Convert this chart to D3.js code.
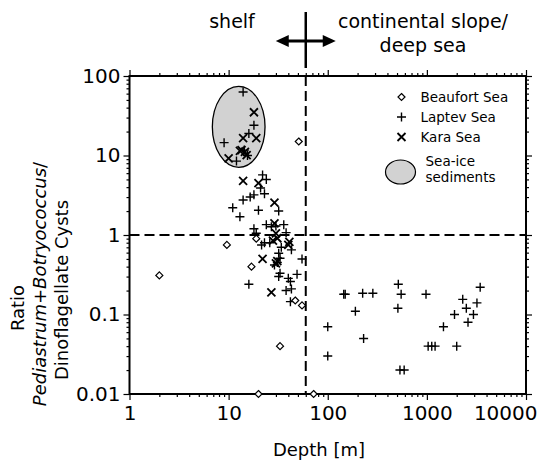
<!DOCTYPE html>
<html>
<head>
<meta charset="utf-8">
<script src="https://cdn.jsdelivr.net/npm/d3@7"></script>
<style>
  body { margin: 0; background: #fff; }
  text { font-family: "DejaVu Sans", sans-serif; fill: #000; }
</style>
</head>
<body>
<div id="chart"></div>
<script>
// depth [m], ratio
const beaufort = [
  [2, 0.31], [9.6, 0.75], [19, 0.9], [17, 0.4], [33, 0.04], [47, 0.15],
  [55, 0.13], [20, 0.01], [72, 0.01], [51, 15]
]

const laptev = [
  // sea-ice group
  [14, 63], [18, 24], [16, 18.9], [9, 14.5], [12, 8.5], [15.5, 10], [14.4, 11.7],
  // shelf
  [22, 5.7], [24, 5.0], [21, 3.9], [23, 3.3], [18, 3.2], [16.5, 3.0], [14, 2.75],
  [32, 2.0], [20, 2.05], [11, 2.2], [13, 1.7], [24, 1.35], [27, 1.27], [36, 1.35],
  [18, 1.2], [38, 1.07], [19, 1.05], [21.5, 0.75], [26, 0.8], [43, 0.65], [32, 0.59],
  [33, 0.51], [55, 0.5], [33, 0.33], [32, 0.3], [40, 0.285], [42, 0.26], [49, 0.32],
  [16, 0.24], [38, 0.2], [43, 0.21], [42, 0.145], [31, 0.45], [29, 0.42], [30, 1.3],
  [23, 0.8], [34, 0.7],
  // slope / deep sea
  [100, 0.07], [100, 0.03], [145, 0.18], [150, 0.18], [190, 0.11], [225, 0.185],
  [285, 0.185], [230, 0.05], [515, 0.24], [550, 0.18], [510, 0.12], [535, 0.02],
  [590, 0.02], [980, 0.18], [1030, 0.04], [1120, 0.04], [1210, 0.04], [1470, 0.07],
  [1900, 0.1], [2000, 0.04], [2300, 0.155], [2500, 0.12], [2600, 0.08], [2950, 0.1],
  [3200, 0.14], [3450, 0.22]
]

const kara = [
  [18, 35], [14, 16.5], [19, 16.5], [13.5, 11.7], [14.6, 11.1], [13, 11.4], [10, 9.2],
  [15.2, 10.1], [14, 4.8], [20, 4.5], [29, 2.55], [29, 1.4], [30, 1.05], [31, 0.91],
  [41, 0.82], [40, 0.75], [22, 0.5], [30, 0.44], [31, 0.47], [27, 0.19], [28, 0.85]
]

// sea-ice sediment envelope: depth range, ratio range
const iceDepth = [6.85, 23.3]
const iceRatio = [7.1, 74]

const shelfBreak = 60
const ratioLine = 1

const xTicks = [1, 10, 100, 1000, 10000]
const yTicks = [0.01, 0.1, 1, 10, 100]
const xLabels = ['1', '10', '100', '1000', '10000']
const yLabels = ['0.01', '0.1', '1', '10', '100']

const margin = { top: 76, left: 129.5, right: 16, bottom: 70 }
const width = 542 - margin.left - margin.right
const height = 464 - margin.top - margin.bottom

const svg = d3
  .select('#chart')
  .append('svg')
  .attr('width', 542)
  .attr('height', 464)

const g = svg
  .append('g')
  .attr('transform', 'translate(' + margin.left + ',' + margin.top + ')')

const x = d3.scaleLog().domain([1, 10000]).range([0, width])
const y = d3.scaleLog().domain([0.01, 100]).range([height, 0])

function minors(ticks) {
  const out = []
  for (let i = 0; i < ticks.length - 1; i++) {
    for (let k = 2; k <= 9; k++) out.push(ticks[i] * k)
  }
  return out
}

// minor ticks on all four sides
const minorX = minors(xTicks)
const minorY = minors(yTicks)
g.append('g').attr('transform', `translate(0,${height})`)
  .call(d3.axisBottom(x).tickValues(minorX).tickSize(3).tickFormat(''))
g.append('g')
  .call(d3.axisTop(x).tickValues(minorX).tickSize(3).tickFormat(''))
g.append('g')
  .call(d3.axisLeft(y).tickValues(minorY).tickSize(3).tickFormat(''))
g.append('g').attr('transform', `translate(${width},0)`)
  .call(d3.axisRight(y).tickValues(minorY).tickSize(3).tickFormat(''))

// major ticks + labels
g.append('g').attr('class', 'xaxis').attr('transform', `translate(0,${height})`)
  .call(d3.axisBottom(x).tickValues(xTicks).tickSize(6).tickPadding(6)
    .tickFormat((d, i) => xLabels[i]))
g.append('g')
  .call(d3.axisTop(x).tickValues(xTicks).tickSize(6).tickFormat(''))
g.append('g').attr('class', 'yaxis')
  .call(d3.axisLeft(y).tickValues(yTicks).tickSize(6).tickPadding(3)
    .tickFormat((d, i) => yLabels[i]))
g.append('g').attr('transform', `translate(${width},0)`)
  .call(d3.axisRight(y).tickValues(yTicks).tickSize(6).tickFormat(''))

g.selectAll('.domain').remove()
g.selectAll('.tick line').attr('stroke', '#000').attr('stroke-width', 1.2)
g.selectAll('.xaxis text, .yaxis text')
  .style('font-family', '"DejaVu Sans", sans-serif')
  .style('font-size', '20px')
  .attr('fill', '#000')
// last x label sits inside the page edge
g.selectAll('.xaxis .tick text')
  .filter(d => d === 10000)
  .attr('text-anchor', 'end')
  .attr('dx', 11)

// frame
g.append('rect')
  .attr('width', width)
  .attr('height', height)
  .attr('fill', 'none')
  .attr('stroke', '#000')
  .attr('stroke-width', 2)

// dashed guide lines
g.append('line')
  .attr('x1', 0).attr('x2', width)
  .attr('y1', y(ratioLine)).attr('y2', y(ratioLine))
  .attr('stroke', '#000').attr('stroke-width', 2)
  .attr('stroke-dasharray', '10,5')
g.append('line')
  .attr('x1', x(shelfBreak)).attr('x2', x(shelfBreak))
  .attr('y1', 0).attr('y2', height)
  .attr('stroke', '#000').attr('stroke-width', 2)
  .attr('stroke-dasharray', '10,5')

// sea-ice ellipse
const ex0 = x(iceDepth[0]), ex1 = x(iceDepth[1])
const ey0 = y(iceRatio[1]), ey1 = y(iceRatio[0])
g.append('ellipse')
  .attr('cx', (ex0 + ex1) / 2)
  .attr('cy', (ey0 + ey1) / 2)
  .attr('rx', (ex1 - ex0) / 2)
  .attr('ry', (ey1 - ey0) / 2)
  .attr('fill', '#d2d2d2')
  .attr('stroke', '#000')
  .attr('stroke-width', 1.3)

// markers
function drawPlus(sel) {
  sel.append('path')
    .attr('d', 'M-4.5,0H4.5M0,-4.5V4.5')
    .attr('stroke', '#000').attr('stroke-width', 1.4).attr('fill', 'none')
}
function drawCross(sel) {
  sel.append('path')
    .attr('d', 'M-4,-4L4,4M-4,4L4,-4')
    .attr('stroke', '#000').attr('stroke-width', 1.8).attr('fill', 'none')
}
function drawDiamond(sel) {
  sel.append('path')
    .attr('d', 'M0,-3.5L3.5,0L0,3.5L-3.5,0Z')
    .attr('stroke', '#000').attr('stroke-width', 1.2).attr('fill', '#fff')
}

g.append('g')
  .selectAll('g')
  .data(laptev)
  .enter()
  .append('g')
  .attr('transform', d => `translate(${x(d[0])},${y(d[1])})`)
  .call(drawPlus)

g.append('g')
  .selectAll('g')
  .data(kara)
  .enter()
  .append('g')
  .attr('transform', d => `translate(${x(d[0])},${y(d[1])})`)
  .call(drawCross)

g.append('g')
  .selectAll('g')
  .data(beaufort)
  .enter()
  .append('g')
  .attr('transform', d => `translate(${x(d[0])},${y(d[1])})`)
  .call(drawDiamond)

// legend
const legend = g.append('g').attr('transform', 'translate(272,21)')
const legendItems = [
  { label: 'Beaufort Sea', draw: drawDiamond },
  { label: 'Laptev Sea', draw: drawPlus },
  { label: 'Kara Sea', draw: drawCross }
]
legendItems.forEach((item, i) => {
  const row = legend.append('g').attr('transform', `translate(0,${i * 20})`)
  row.append('g').call(item.draw)
  row.append('text')
    .attr('x', 19)
    .attr('y', 5)
    .style('font-size', '13.5px')
    .text(item.label)
})
legend.append('ellipse')
  .attr('cx', -1).attr('cy', 75).attr('rx', 15).attr('ry', 12)
  .attr('fill', '#d2d2d2').attr('stroke', '#000').attr('stroke-width', 1.2)
legend.append('text').attr('x', 24).attr('y', 69).style('font-size', '13.5px').text('Sea-ice')
legend.append('text').attr('x', 24).attr('y', 85).style('font-size', '13.5px').text('sediments')

// axis titles
svg.append('text')
  .attr('x', 319)
  .attr('y', 456)
  .attr('text-anchor', 'middle')
  .style('font-size', '18px')
  .text('Depth [m]')

const yTitle = svg.append('text')
  .attr('transform', `translate(0,${margin.top + height / 2 + 55}) rotate(-90)`)
  .attr('text-anchor', 'middle')
  .style('font-size', '18px')
yTitle.append('tspan').attr('x', -18).attr('y', 24).text('Ratio')
const l2 = yTitle.append('tspan').attr('x', 6).attr('y', 46)
l2.append('tspan').style('font-style', 'italic').text('Pediastrum')
l2.append('tspan').text('+')
l2.append('tspan').style('font-style', 'italic').text('Botryococcus')
l2.append('tspan').text('/')
yTitle.append('tspan').attr('x', 0).attr('y', 68).text('Dinoflagellate Cysts')

// header: shelf vs. slope
const bx = margin.left + x(shelfBreak)
svg.append('text')
  .attr('x', 232).attr('y', 28)
  .attr('text-anchor', 'middle')
  .style('font-size', '19px')
  .text('shelf')
svg.append('text')
  .attr('x', 423).attr('y', 28)
  .attr('text-anchor', 'middle')
  .style('font-size', '19px')
  .text('continental slope/')
svg.append('text')
  .attr('x', 423).attr('y', 52)
  .attr('text-anchor', 'middle')
  .style('font-size', '19px')
  .text('deep sea')

svg.append('line')
  .attr('x1', bx).attr('x2', bx).attr('y1', 12).attr('y2', 68)
  .attr('stroke', '#000').attr('stroke-width', 2.5)
svg.append('line')
  .attr('x1', bx - 20).attr('x2', bx + 20).attr('y1', 41).attr('y2', 41)
  .attr('stroke', '#000').attr('stroke-width', 3)
svg.append('path')
  .attr('d', `M${bx - 30},41L${bx - 17},35L${bx - 17},47Z`)
  .attr('fill', '#000')
svg.append('path')
  .attr('d', `M${bx + 30},41L${bx + 17},35L${bx + 17},47Z`)
  .attr('fill', '#000')
</script>
</body>
</html>
